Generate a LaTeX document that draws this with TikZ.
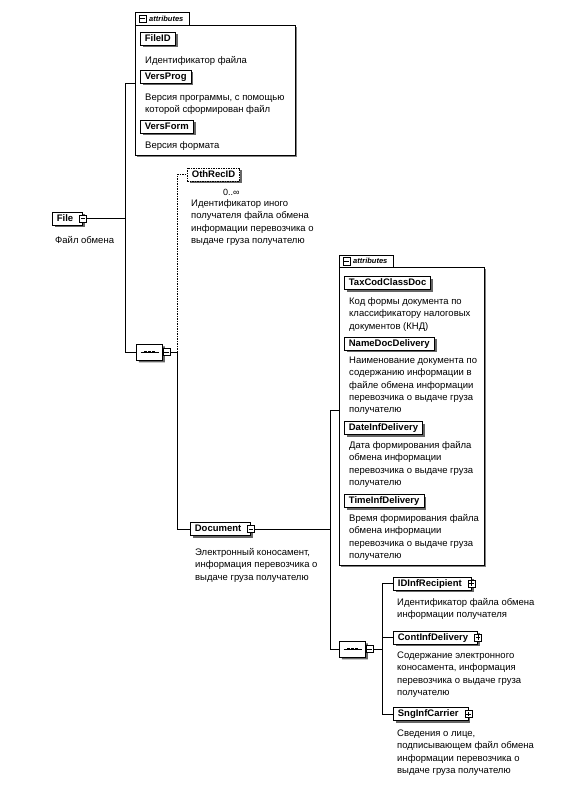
\documentclass[tikz,border=0pt]{standalone}
\usepackage{fontspec}
\setmainfont{Liberation Sans}
\usetikzlibrary{shapes.misc,shadows,calc}
\newcommand{\mlines}[1]{\begin{tabular}[t]{@{}l@{}}#1\end{tabular}}
\begin{document}
\begin{tikzpicture}[x=1pt,y=-1pt,
  every node/.style={inner sep=0pt},
  shd/.style={drop shadow={shadow xshift=2.4pt, shadow yshift=-2.4pt, fill=black!60, opacity=1}},
  elem/.style={draw, line width=0.75pt, fill=white, font=\fontsize{9.5}{11}\selectfont\bfseries,
    inner xsep=4.5pt, minimum height=13pt, anchor=west, text height=7pt, text depth=2pt, shd},
  optelem/.style={elem, dash pattern=on 1.5pt off 1pt},
  desc/.style={font=\fontsize{9.5}{12.3}\selectfont, anchor=base west},
  icon/.style={draw, fill=white, line width=0.5pt, minimum size=7pt, inner sep=0pt},
  minusicon/.style={icon, path picture={\draw ([xshift=1.3pt]path picture bounding box.west) -- ([xshift=-1.3pt]path picture bounding box.east);}},
  plusicon/.style={icon, path picture={\draw ([xshift=1.3pt]path picture bounding box.west) -- ([xshift=-1.3pt]path picture bounding box.east); \draw ([yshift=1.3pt]path picture bounding box.south) -- ([yshift=-1.3pt]path picture bounding box.north);}},
  attrbox/.style={draw, line width=0.6pt, fill=white, anchor=north west, drop shadow={shadow xshift=1.2pt, shadow yshift=-1.2pt, fill=black!50, opacity=1}},
  tablabel/.style={font=\fontsize{7.5}{8}\selectfont\bfseries\itshape, anchor=west},
  seqbox/.style={chamfered rectangle, chamfered rectangle xsep=3pt, draw, line width=0.75pt, fill=white, minimum width=26pt, minimum height=16pt, shd},
  conn/.style={line width=0.6pt},
  optconn/.style={line width=0.6pt, dash pattern=on 1.5pt off 1pt}
]
\useasboundingbox (0,0) rectangle (571,785);

% ---------- attributes of File ----------
\node[attrbox, minimum width=160pt, minimum height=130pt] (a1) at (135,25) {};
\draw[line width=0.6pt, fill=white] (a1.north west) -- ++(0,-13) -- ++(54,0) -- ++(0,13);
\node[minusicon, minimum size=7.5pt] (a1I) at (142.5,18.5) {};
\node[tablabel] (a1T) at (149,18.5) {attributes};

\node[elem] (fileid) at (140,38.5) {FileID};
\node[desc] (fileidD) at (145,63.5) {\mlines{Идентификатор файла}};
\node[elem] (versprog) at (140,76.5) {VersProg};
\node[desc] (versprogD) at (145,100.5) {\mlines{Версия программы, с помощью\\которой сформирован файл}};
\node[elem] (versform) at (140,126.5) {VersForm};
\node[desc] (versformD) at (145,148.5) {\mlines{Версия формата}};

% ---------- File ----------
\node[elem] (file) at (52,218.5) {File\hspace*{5pt}};
\node[minusicon] (fileI) at (file.east) {};
\node[desc] (fileD) at (55,243.5) {\mlines{Файл обмена}};

\coordinate (ja) at (125,83);
\coordinate (jb) at (125,352);
\draw[conn] (fileI.east) -- (fileI.east -| ja);
\draw[conn] (ja) -- (jb);
\draw[conn] (ja) -- (ja -| a1.west);

% ---------- sequence 1 ----------
\node[seqbox] (s1) at (149.5,352) {};
\draw[line width=0.6pt] ($(s1.center)+(-9,0)$) -- ($(s1.center)+(9,0)$);
\foreach \dx in {-4,0,4}{\fill ($(s1.center)+(\dx-1.2,-1.2)$) rectangle ++(2.4,2.4);}
\node[minusicon, anchor=west] (s1I) at (s1.east) {};
\draw[conn] (jb) -- (s1.west);
\coordinate (jc) at (177,352);
\draw[conn] (s1I.east) -- (jc);

% ---------- OthRecID ----------
\node[optelem] (oth) at (187,174.5) {OthRecID};
\node[font=\fontsize{9}{10}\selectfont, anchor=base west] (othM) at (223,195.5) {0..∞};
\node[desc] (othD) at (191,206.5) {\mlines{Идентификатор иного\\получателя файла обмена\\информации перевозчика о\\выдаче груза получателю}};
\draw[optconn] (jc) -- (jc |- oth.west) -- (oth.west);

% ---------- Document ----------
\node[elem] (doc) at (190,529) {Document\hspace*{5pt}};
\node[minusicon] (docI) at (doc.east) {};
\node[desc] (docD) at (195,555.5) {\mlines{Электронный коносамент,\\информация перевозчика о\\выдаче груза получателю}};
\draw[conn] (jc) -- (jc |- doc.west) -- (doc.west);

\coordinate (jd) at (330,410);
\coordinate (je) at (330,649);
\draw[conn] (docI.east) -- (docI.east -| jd);
\draw[conn] (jd) -- (je);

% ---------- attributes of Document ----------
\node[attrbox, minimum width=145pt, minimum height=298pt] (a2) at (339,267) {};
\draw[line width=0.6pt, fill=white] (a2.north west) -- ++(0,-12) -- ++(54,0) -- ++(0,12);
\node[minusicon, minimum size=7.5pt] (a2I) at (346.5,261) {};
\node[tablabel] (a2T) at (353,261) {attributes};
\draw[conn] (jd) -- (jd -| a2.west);

\node[elem] (tax) at (344,283) {TaxCodClassDoc};
\node[desc] (taxD) at (349,304.5) {\mlines{Код формы документа по\\классификатору налоговых\\документов (КНД)}};
\node[elem] (name) at (344,343.5) {NameDocDelivery};
\node[desc] (nameD) at (349,363.5) {\mlines{Наименование документа по\\содержанию информации в\\файле обмена информации\\перевозчика о выдаче груза\\получателю}};
\node[elem] (date) at (344,428) {DateInfDelivery};
\node[desc] (dateD) at (349,448.5) {\mlines{Дата формирования файла\\обмена информации\\перевозчика о выдаче груза\\получателю}};
\node[elem] (time) at (344,501) {TimeInfDelivery};
\node[desc] (timeD) at (349,521.5) {\mlines{Время формирования файла\\обмена информации\\перевозчика о выдаче груза\\получателю}};

% ---------- sequence 2 ----------
\node[seqbox] (s2) at (352.5,649) {};
\draw[line width=0.6pt] ($(s2.center)+(-9,0)$) -- ($(s2.center)+(9,0)$);
\foreach \dx in {-4,0,4}{\fill ($(s2.center)+(\dx-1.2,-1.2)$) rectangle ++(2.4,2.4);}
\node[minusicon, anchor=west] (s2I) at (s2.east) {};
\draw[conn] (je) -- (s2.west);
\coordinate (jf) at (382,649);
\draw[conn] (s2I.east) -- (jf);

\node[elem] (idr) at (393,583.5) {IDInfRecipient\hspace*{5pt}};
\node[plusicon] (idrI) at (idr.east) {};
\node[desc] (idrD) at (397,605.5) {\mlines{Идентификатор файла обмена\\информации получателя}};
\node[elem] (cont) at (393,637.5) {ContInfDelivery\hspace*{5pt}};
\node[plusicon] (contI) at (cont.east) {};
\node[desc] (contD) at (397,658.5) {\mlines{Содержание электронного\\коносамента, информация\\перевозчика о выдаче груза\\получателю}};
\node[elem] (sng) at (393,714) {SngInfCarrier\hspace*{5pt}};
\node[plusicon] (sngI) at (sng.east) {};
\node[desc] (sngD) at (397,736.5) {\mlines{Сведения о лице,\\подписывающем файл обмена\\информации перевозчика о\\выдаче груза получателю}};

\draw[conn] (jf |- idr.west) -- (jf |- sng.west);
\draw[conn] (jf |- idr.west) -- (idr.west);
\draw[conn] (jf |- cont.west) -- (cont.west);
\draw[conn] (jf |- sng.west) -- (sng.west);
\end{tikzpicture}
\end{document}
